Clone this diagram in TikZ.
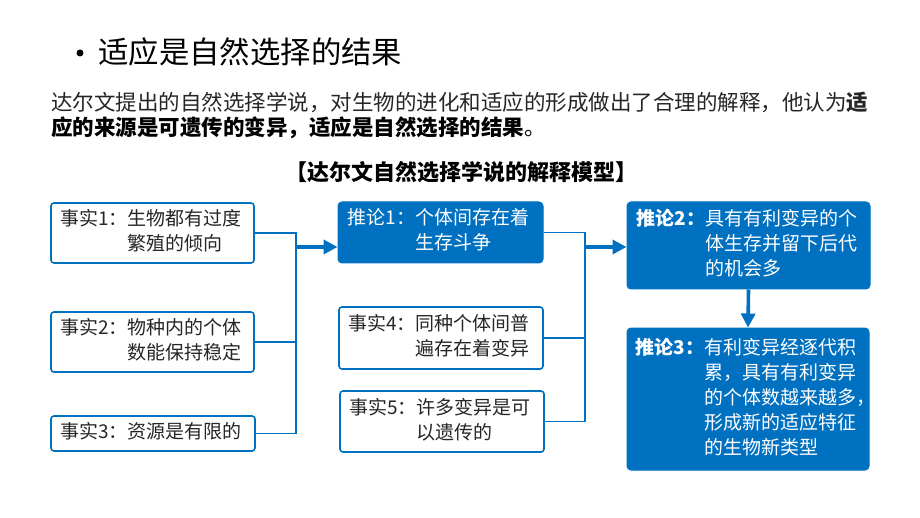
\documentclass[tikz,border=0pt]{standalone}
\usepackage{fontspec}
\setmainfont{Noto Sans CJK SC}
\usetikzlibrary{arrows.meta}
\definecolor{mblue}{HTML}{0070C0}
\definecolor{txtgray}{HTML}{262626}
\begin{document}
\begin{tikzpicture}[x=1pt,y=-1pt,
  factbox/.style={draw=mblue, line width=1.6pt, fill=white, rounded corners=3pt, inner sep=0pt},
  infbox/.style={draw=mblue, line width=1pt, fill=mblue, rounded corners=4pt, inner sep=0pt},
  boxtext/.style={anchor=west, inner sep=0pt, font=\fontsize{19}{25}\selectfont},
  facttext/.style={boxtext, text=txtgray},
  inftext/.style={boxtext, text=white},
  conn/.style={draw=mblue, line width=1.6pt},
  bigarrow/.style={draw=mblue, line width=3.6pt, -{Triangle[length=14pt,width=14pt]}},
]
\useasboundingbox (0,0) rectangle (920,518);
\fill[white] (0,0) rectangle (920,518);

% title
\node[circle, fill=black, inner sep=0pt, minimum size=7pt] (bul) at (80,53) {};
\node[anchor=west, inner sep=0pt, font=\fontsize{30.4}{30}\selectfont] (title) at (98,52) {适应是自然选择的结果};

% paragraph
\node[anchor=west, inner sep=0pt, text=txtgray, font=\fontsize{21.5}{21.5}\selectfont] (p1) at (51,102)
  {达尔文提出的自然选择学说，对生物的进化和适应的形成做出了合理的解释，他认为\textbf{适}};
\node[anchor=west, inner sep=0pt, text=black, font=\fontsize{21.5}{21.5}\selectfont] (p2) at (51,128)
  {\textbf{应的来源是可遗传的变异，适应是自然选择的结果}。};

% heading
\node[anchor=center, inner sep=0pt, font=\fontsize{22}{22}\selectfont\bfseries] (head) at (461,172)
  {【达尔文自然选择学说的解释模型】};

% boxes
\node[factbox, minimum width=203pt, minimum height=60pt] (f1) at (152.5,233) {};
\node[factbox, minimum width=203pt, minimum height=60pt] (f2) at (152.5,342) {};
\node[factbox, minimum width=204pt, minimum height=35pt] (f3) at (153,433.5) {};
\node[infbox, minimum width=205pt, minimum height=61pt] (i1) at (440.5,232.5) {};
\node[factbox, minimum width=204pt, minimum height=62pt] (f4) at (441,338) {};
\node[factbox, minimum width=204pt, minimum height=61pt] (f5) at (442,421.5) {};
\node[infbox, minimum width=243pt, minimum height=87pt] (i2) at (748.5,245.5) {};
\node[infbox, minimum width=242pt, minimum height=142pt] (i3) at (748,399) {};

% texts
\node[facttext] (f1t) at ([xshift=10pt]f1.west)
  {\begin{tabular}{@{}l@{}l@{}}事实1：&生物都有过度\\&繁殖的倾向\end{tabular}};
\node[facttext] (f2t) at ([xshift=10pt]f2.west)
  {\begin{tabular}{@{}l@{}l@{}}事实2：&物种内的个体\\&数能保持稳定\end{tabular}};
\node[facttext] (f3t) at ([xshift=10pt]f3.west)
  {\begin{tabular}{@{}l@{}l@{}}事实3：&资源是有限的\end{tabular}};
\node[inftext] (i1t) at ([xshift=10pt]i1.west)
  {\begin{tabular}{@{}l@{}l@{}}推论1：&个体间存在着\\&生存斗争\end{tabular}};
\node[facttext] (f4t) at ([xshift=10pt]f4.west)
  {\begin{tabular}{@{}l@{}l@{}}事实4：&同种个体间普\\&遍存在着变异\end{tabular}};
\node[facttext] (f5t) at ([xshift=10pt]f5.west)
  {\begin{tabular}{@{}l@{}l@{}}事实5：&许多变异是可\\&以遗传的\end{tabular}};
\node[inftext] (i2t) at ([xshift=10pt]i2.west)
  {\begin{tabular}{@{}l@{}l@{}}\textbf{推论2：}&具有有利变异的个\\&体生存并留下后代\\&的机会多\end{tabular}};
\node[inftext] (i3t) at ([xshift=9pt]i3.west)
  {\begin{tabular}{@{}l@{}l@{}}\textbf{推论3：}&有利变异经逐代积\\&累，具有有利变异\\&的个体数越来越多，\\&形成新的适应特征\\&的生物新类型\end{tabular}};

% connectors
\coordinate (bus1) at (296,0);
\coordinate (bus2) at (585,0);
\coordinate (a1) at (296,247);
\coordinate (a2) at (585,247);
\draw[conn] (f1.east) -- (f1.east -| bus1) -- (f3.east -| bus1) -- (f3.east);
\draw[conn] (f2.east) -- (f2.east -| bus1);
\draw[conn] (i1.east) -- (i1.east -| bus2) -- (f5.east -| bus2) -- (f5.east);
\draw[conn] (f4.east) -- (f4.east -| bus2);
\draw[bigarrow] (a1) -- (a1 -| i1.west);
\draw[bigarrow] (a2) -- (a2 -| i2.west);
\draw[bigarrow] (i2.south) -- (i3.north);
\end{tikzpicture}
\end{document}
